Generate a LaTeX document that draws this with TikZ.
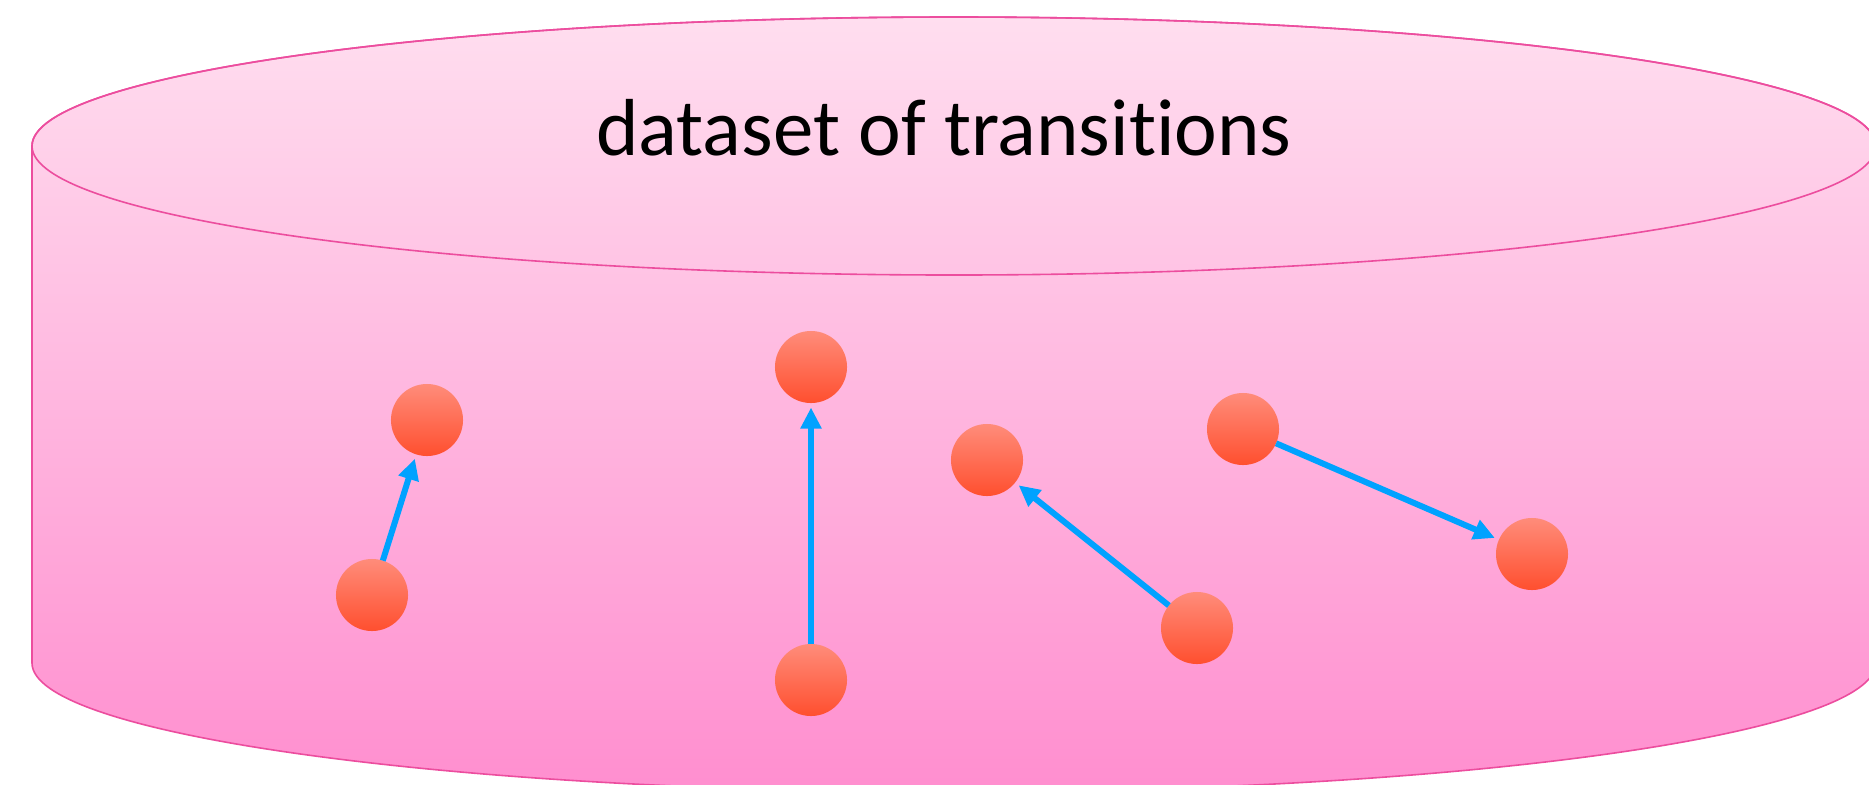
\documentclass[tikz,border=0pt]{standalone}
\usepackage{fontspec}
\setmainfont{Carlito}[Ligatures={NoCommon,NoRequired,NoContextual}]
\usetikzlibrary{arrows.meta}
\definecolor{cyltop}{HTML}{FFDEEF}
\definecolor{cylbot}{HTML}{FF8ECF}
\definecolor{cylline}{HTML}{EC4D9E}
\definecolor{dottop}{HTML}{FF8C7A}
\definecolor{dotbot}{HTML}{FF4F2F}
\definecolor{arrowblue}{HTML}{00A2FF}
\tikzset{
  dot/.style={circle, minimum size=0.72cm, inner sep=0pt, outer sep=0pt, draw=none,
    top color=dottop, bottom color=dotbot},
  trans/.style={draw=arrowblue, line width=0.06cm,
    -{Triangle[length=0.21cm, width=0.2cm]}, shorten >=0.045cm},
  cylstroke/.style={draw=cylline, line width=0.016cm},
}
\begin{document}
\begin{tikzpicture}[x=0.01cm, y=-0.01cm]
\useasboundingbox (0,0) rectangle (1869,784);
\clip (0,0) rectangle (1869,784);
% cylinder body
\path[cylstroke, top color=cyltop, bottom color=cylbot]
  (32,146) -- (32,663)
  arc[start angle=180, end angle=0, x radius=922, y radius=129]
  -- (1876,146)
  arc[start angle=0, end angle=-180, x radius=922, y radius=129] -- cycle;
\draw[cylstroke] (954,146) ellipse [x radius=922, y radius=129];
\node[anchor=base, inner sep=0pt, font=\fontsize{23}{28}\selectfont] (title) at (944,155) {dataset of transitions};
% states
\node[dot] (a1) at (372,595) {};
\node[dot] (a2) at (427,420) {};
\node[dot] (b1) at (811,680) {};
\node[dot] (b2) at (811,367) {};
\node[dot] (c1) at (1197,628) {};
\node[dot] (c2) at (987,460) {};
\node[dot] (d1) at (1243,429) {};
\node[dot] (d2) at (1532,554) {};
% transitions
\draw[trans] (a1) -- (a2);
\draw[trans] (b1) -- (b2);
\draw[trans] (c1) -- (c2);
\draw[trans] (d1) -- (d2);
\end{tikzpicture}
\end{document}
